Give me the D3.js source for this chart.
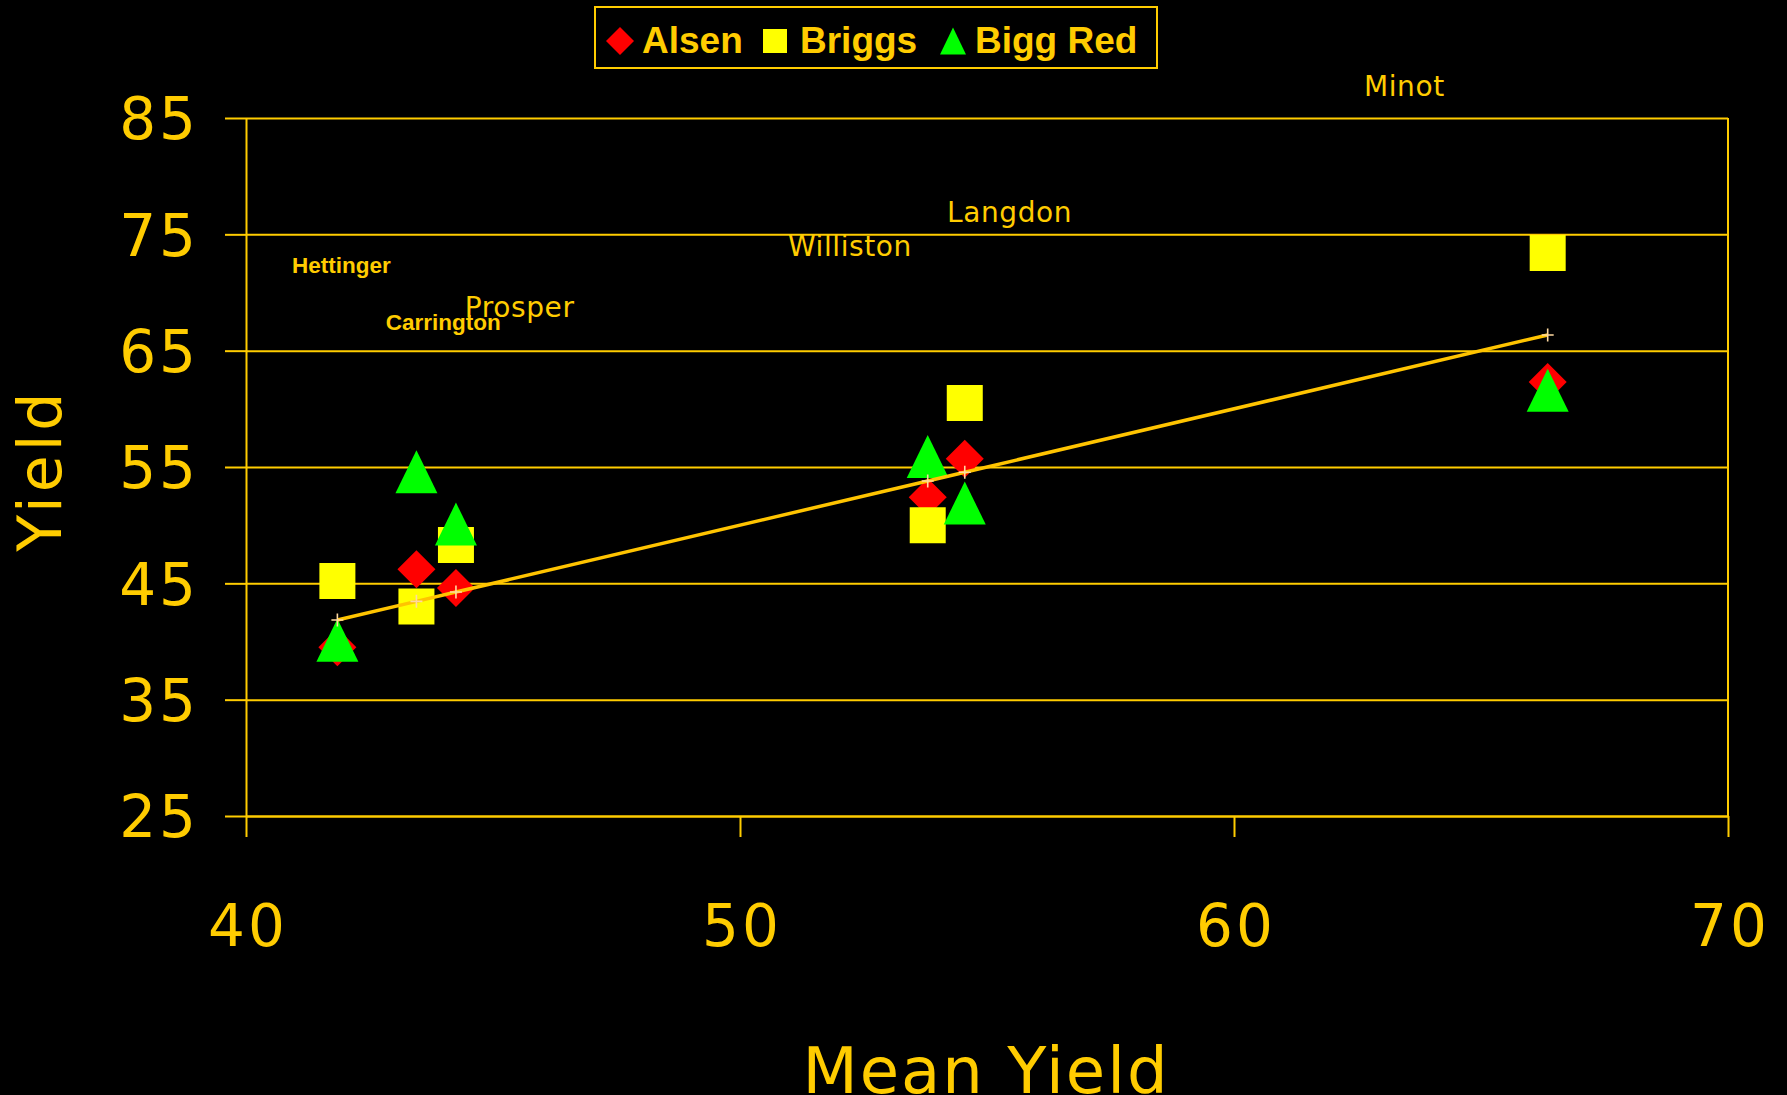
<!DOCTYPE html>
<html>
<head>
<meta charset="utf-8">
<script src="https://cdn.jsdelivr.net/npm/d3@7"></script>
<style>
  html, body { margin: 0; padding: 0; background: #000; }
  svg { display: block; }
</style>
</head>
<body>
<svg id="chart" width="1787" height="1095"></svg>
<script>
// ---- Data ----
const sites     = ["Hettinger", "Carrington", "Prosper", "Williston", "Langdon", "Minot"];
const meanYield = [41.85, 43.45, 44.25, 53.8, 54.55, 66.35];
const alsen     = [39.5, 46.2, 44.6, 52.4, 55.7, 62.3];
const briggs    = [45.2, 43.0, 48.3, 50.0, 60.5, 73.4];
const biggRed   = [40.1, 54.6, 50.1, 55.9, 51.9, 61.6];
// site label anchors (data units: mean yield, yield) and whether bold
const labelX    = [40.93, 42.83, 44.43, 50.97, 54.19, 62.63];
const labelY    = [71.68, 66.78, 67.89, 73.14, 76.06, 86.89];
const labelBold = [true, true, false, false, false, false];
const xTicks    = [40, 50, 60, 70];
const yTicks    = [25, 35, 45, 55, 65, 75, 85];
const seriesNames = ["Alsen", "Briggs", "Bigg Red"];

// ---- Layout ----
const GOLD = "#FFCC00";
const svg = d3.select("#chart");
const x = d3.scaleLinear().domain([40, 70]).range([246, 1728]);
const y = d3.scaleLinear().domain([25, 85]).range([816, 118]);
const plotW = x(70) - x(40);

// gridlines
svg.append("g")
  .attr("transform", `translate(${x(40)},0)`)
  .call(d3.axisLeft(y).tickValues(yTicks).tickSize(-plotW).tickFormat(""))
  .call(g => g.select(".domain").remove())
  .call(g => g.selectAll("line").attr("stroke", GOLD).attr("stroke-width", 2));

// right border
svg.append("line")
  .attr("x1", x(70)).attr("x2", x(70)).attr("y1", y(85)).attr("y2", y(25))
  .attr("stroke", GOLD).attr("stroke-width", 2);

// y axis
svg.append("g")
  .attr("transform", `translate(${x(40)},0)`)
  .call(d3.axisLeft(y).tickValues(yTicks).tickSize(21).tickSizeOuter(0).tickPadding(35))
  .call(g => g.select(".domain").attr("stroke", GOLD).attr("stroke-width", 2))
  .call(g => g.selectAll(".tick line").attr("stroke", GOLD).attr("stroke-width", 2))
  .call(g => g.selectAll("text")
      .attr("fill", GOLD).attr("font-family", "'DejaVu Sans', Verdana, sans-serif")
      .attr("font-size", 58).attr("letter-spacing", 3).attr("dx", 9).attr("dy", "0.36em"));

// x axis
svg.append("g")
  .attr("transform", `translate(0,${y(25)})`)
  .call(d3.axisBottom(x).tickValues(xTicks).tickSize(21).tickSizeOuter(0))
  .call(g => g.select(".domain").attr("stroke", GOLD).attr("stroke-width", 2))
  .call(g => g.selectAll(".tick line").attr("stroke", GOLD).attr("stroke-width", 2))
  .call(g => g.selectAll("text")
      .attr("fill", GOLD).attr("font-family", "'DejaVu Sans', Verdana, sans-serif")
      .attr("font-size", 58).attr("letter-spacing", 3).attr("dx", 1.5)
      .attr("y", 89).attr("dy", "0.71em"));

// axis titles
svg.append("text")
  .attr("transform", "translate(61,470) rotate(-90)")
  .attr("text-anchor", "middle")
  .attr("font-family", "'DejaVu Sans', Verdana, sans-serif")
  .attr("font-size", 60).attr("letter-spacing", 4)
  .attr("fill", GOLD).text("Yield");

svg.append("text")
  .attr("x", 986).attr("y", 1093)
  .attr("text-anchor", "middle")
  .attr("font-family", "'DejaVu Sans', Verdana, sans-serif")
  .attr("font-size", 64).attr("letter-spacing", 2)
  .attr("fill", GOLD).text("Mean Yield");

// marker shapes
function diamond(w, h) { return `M0,${-h/2}L${w/2},0L0,${h/2}L${-w/2},0Z`; }
function square(s) { return `M${-s/2},${-s/2}h${s}v${s}h${-s}Z`; }
function triangle(w, h) { return `M0,${-h/2}L${w/2},${h/2}L${-w/2},${h/2}Z`; }

const series = [
  { name: seriesNames[0], values: alsen,   color: "#FF0000", path: diamond(38, 38),  legend: diamond(28, 28) },
  { name: seriesNames[1], values: briggs,  color: "#FFFF00", path: square(36),       legend: square(24) },
  { name: seriesNames[2], values: biggRed, color: "#00FF00", path: triangle(42, 43), legend: triangle(26, 27) }
];

series.forEach(s => {
  svg.append("g").selectAll("path")
    .data(s.values)
    .join("path")
    .attr("d", s.path)
    .attr("transform", (v, i) => `translate(${x(meanYield[i])},${y(v)})`)
    .attr("fill", s.color);
});

// mean line (yield = mean yield)
const meanPts = meanYield.map(m => [m, m]).sort((a, b) => a[0] - b[0]);
svg.append("path")
  .datum(meanPts)
  .attr("d", d3.line().x(d => x(d[0])).y(d => y(d[1])))
  .attr("fill", "none").attr("stroke", "#FFC400").attr("stroke-width", 3.5);

svg.append("g").selectAll("path")
  .data(meanPts)
  .join("path")
  .attr("d", "M-6,0H6M0,-6.5V6.5")
  .attr("transform", d => `translate(${x(d[0])},${y(d[1])})`)
  .attr("stroke", "#FFD9A0").attr("stroke-width", 1.6).attr("fill", "none");

// site labels
svg.append("g").selectAll("text")
  .data(sites)
  .join("text")
  .attr("x", (d, i) => x(labelX[i]))
  .attr("y", (d, i) => y(labelY[i]))
  .attr("font-family", (d, i) => labelBold[i] ? "'Liberation Sans', Arial, sans-serif" : "'DejaVu Sans', Verdana, sans-serif")
  .attr("font-weight", (d, i) => labelBold[i] ? "bold" : "normal")
  .attr("font-size", (d, i) => labelBold[i] ? 22.5 : 28)
  .attr("letter-spacing", (d, i) => labelBold[i] ? 0 : 0.6)
  .attr("fill", GOLD)
  .text(d => d);

// legend
const lg = svg.append("g");
lg.append("rect")
  .attr("x", 595).attr("y", 7).attr("width", 562).attr("height", 61)
  .attr("fill", "#000").attr("stroke", GOLD).attr("stroke-width", 2);
const legendSym = [620, 775, 953];
const legendTxt = [642, 800, 975];
series.forEach((s, i) => {
  lg.append("path").attr("d", s.legend)
    .attr("transform", `translate(${legendSym[i]},41)`).attr("fill", s.color);
  lg.append("text")
    .attr("x", legendTxt[i]).attr("y", 53)
    .attr("font-family", "'Liberation Sans', Arial, sans-serif")
    .attr("font-weight", "bold").attr("font-size", 37)
    .attr("fill", GOLD).text(s.name);
});
</script>
</body>
</html>
